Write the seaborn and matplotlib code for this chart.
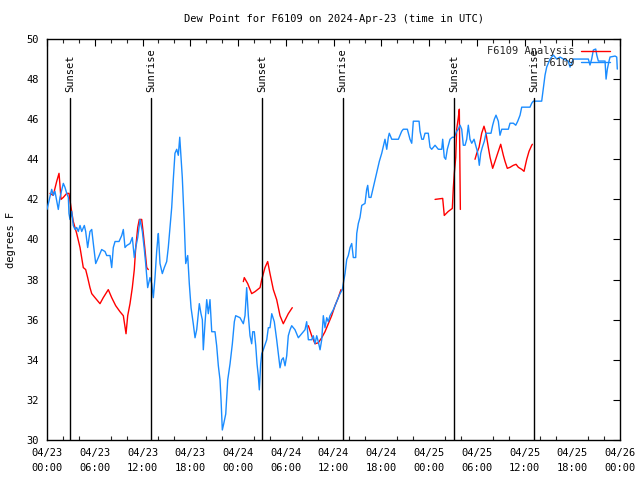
import numpy as np
import pandas as pd
import matplotlib
matplotlib.use("Agg")
import matplotlib.pyplot as plt
import matplotlib.dates as mdates
from matplotlib.lines import Line2D
import seaborn as sns

# ---------------- data ----------------
title = "Dew Point for F6109 on 2024-Apr-23 (time in UTC)"
y_label = "degrees F"
start = "2024-04-23 00:00"
end = "2024-04-26 00:00"
obs_label = "F6109"
ana_label = "F6109 Analysis"

# observed dew point (hours after start, degrees F)
obs_hours = [
    0.0, 0.59, 0.79, 1.0, 1.42, 1.63, 2.05, 2.26, 2.48, 2.68, 2.76, 2.89, 3.1, 3.3, 3.52,
    3.73, 3.93, 4.15, 4.36, 4.69, 4.86, 5.11, 5.4, 5.62, 5.82, 6.12, 6.45, 6.87, 7.29, 7.5,
    7.92, 8.13, 8.33, 8.55, 9.05, 9.39, 9.59, 9.8, 10.02, 10.43, 10.72, 10.97, 11.15, 11.4,
    11.69, 11.98, 12.23, 12.4, 12.65, 12.94, 13.16, 13.36, 13.57, 13.78, 13.91, 13.99, 14.2,
    14.49, 14.74, 15.04, 15.24, 15.46, 15.67, 15.87, 16.08, 16.3, 16.5, 16.68, 16.84, 17.0,
    17.25, 17.43, 17.68, 17.88, 18.1, 18.38, 18.6, 18.81, 19.01, 19.14, 19.35, 19.52, 19.64,
    19.85, 20.07, 20.27, 20.48, 20.7, 21.11, 21.32, 21.53, 21.74, 21.87, 22.03, 22.2, 22.46,
    22.71, 23.0, 23.29, 23.54, 23.71, 24.25, 24.67, 24.88, 25.09, 25.3, 25.51, 25.72, 25.85,
    26.05, 26.23, 26.39, 26.55, 26.68, 26.85, 26.98, 27.18, 27.61, 27.81, 28.02, 28.24,
    28.56, 28.86, 29.07, 29.28, 29.49, 29.69, 29.91, 30.12, 30.32, 30.54, 30.75, 31.16,
    31.58, 32.0, 32.42, 32.63, 32.84, 33.26, 33.46, 33.68, 33.89, 34.09, 34.31, 34.52,
    34.72, 34.93, 35.15, 35.35, 35.56, 35.98, 36.4, 36.82, 37.11, 37.23, 37.45, 37.66,
    37.86, 38.08, 38.29, 38.49, 38.79, 38.92, 39.12, 39.33, 39.55, 39.96, 40.17, 40.3,
    40.46, 40.71, 41.0, 41.22, 41.51, 41.76, 42.06, 42.35, 42.47, 42.69, 42.89, 43.01,
    43.32, 44.15, 44.57, 44.77, 45.28, 45.61, 45.83, 46.03, 46.75, 46.87, 47.09, 47.29,
    47.5, 47.91, 48.13, 48.34, 48.76, 49.17, 49.6, 49.72, 49.92, 50.1, 50.3, 50.64, 50.93,
    51.18, 51.48, 51.69, 51.9, 52.11, 52.31, 52.53, 52.74, 52.94, 53.15, 53.37, 53.66,
    53.87, 54.07, 54.2, 54.32, 54.5, 54.7, 54.95, 55.16, 55.79, 56.0, 56.21, 56.42, 56.71,
    56.92, 57.14, 57.97, 58.18, 58.6, 58.9, 59.15, 59.44, 59.65, 60.69, 60.91, 61.11,
    62.16, 62.36, 62.58, 62.79, 63.21, 63.62, 64.05, 64.46, 64.88, 65.5, 65.72, 65.93,
    66.13, 68.02, 68.23, 68.44, 68.65, 68.95, 69.08, 69.28, 70.12, 70.25, 70.41, 70.62,
    70.75, 71.38, 71.59, 71.66,
]
obs_values = [
    41.5, 42.5, 42.2, 42.4, 41.5, 42.1, 42.8, 42.6, 42.3, 42.1, 41.3, 41.0, 41.4, 40.7, 40.5,
    40.6, 40.4, 40.7, 40.4, 40.7, 40.4, 39.6, 40.4, 40.5, 39.8, 38.8, 39.1, 39.5, 39.4, 39.2,
    39.2, 38.6, 39.6, 39.9, 39.9, 40.2, 40.5, 39.6, 39.7, 39.8, 40.1, 39.1, 39.6, 40.1,
    41.0, 40.4, 39.5, 38.8, 37.6, 38.1, 37.8, 37.1, 38.1, 39.4, 40.0, 40.3, 38.8,
    38.3, 38.6, 38.9, 39.6, 40.6, 41.6, 43.0, 44.3, 44.5, 44.2, 45.1, 44.1, 43.1,
    40.8, 38.8, 39.2, 37.8, 36.6, 35.8, 35.1, 35.5, 36.3, 36.8, 36.3, 36.0, 34.5,
    35.8, 37.0, 36.3, 37.0, 35.4, 35.4, 34.7, 33.7, 33.0, 32.0, 30.5, 30.8, 31.3,
    33.0, 33.8, 34.8, 35.9, 36.2, 36.1, 35.8, 36.2, 37.6, 36.2, 35.2, 34.8, 35.4,
    35.4, 34.7, 33.8, 33.2, 32.5, 33.8, 34.3, 34.5, 35.0, 35.6, 35.6, 36.3,
    35.9, 35.0, 34.3, 33.6, 34.0, 34.1, 33.7, 34.2, 35.2, 35.5, 35.7, 35.5,
    35.1, 35.3, 35.5, 35.9, 35.0, 35.0, 35.2, 34.8, 35.2, 34.9, 34.5, 35.0,
    36.2, 35.6, 36.1, 35.9, 36.2, 36.5, 36.9, 37.3, 37.5, 37.8, 38.3, 39.0,
    39.2, 39.6, 39.8, 39.1, 39.1, 40.3, 40.8, 41.1, 41.7, 41.8, 42.5, 42.7,
    42.1, 42.1, 42.6, 43.0, 43.5, 43.9, 44.3, 44.8, 45.0, 44.5, 45.1, 45.3,
    45.0, 45.0, 45.4, 45.5, 45.5, 45.0, 44.8, 45.9, 45.9, 45.4, 45.0, 45.0,
    45.3, 45.3, 44.6, 44.5, 44.7, 44.5, 44.5, 45.0, 44.1, 44.0, 44.5, 45.0, 45.1,
    45.1, 45.4, 45.5, 45.7, 45.5, 44.7, 44.7, 45.0, 45.7, 45.0, 44.8, 45.0,
    44.7, 44.4, 44.1, 43.7, 44.3, 44.6, 44.9, 45.3, 45.3, 45.7, 46.0, 46.2, 45.9,
    45.2, 45.5, 45.5, 45.8, 45.8, 45.7, 45.9, 46.2, 46.6, 46.6, 46.8, 46.9,
    46.9, 47.5, 48.2, 48.6, 49.0, 49.2, 49.0, 49.1, 49.0, 48.9, 48.6, 48.8,
    49.0, 49.0, 48.7, 49.0, 49.45, 49.5, 49.2, 48.9, 48.9, 48.0, 48.5, 48.9,
    49.1, 49.15, 49.1, 48.5,
]

# analysis dew point (NaN marks a gap in the series)
ana_hours = [
    0.38, 0.79, 1.0, 1.22, 1.51, 1.63, 1.76, 2.05, 2.48, 2.76, 3.02, 3.3, 3.73, 4.15, 4.56,
    4.86, 5.11, 5.4, 5.62, 6.03, 6.66, 7.07, 7.7, 8.13, 8.63, 9.17, 9.59, 9.8, 9.93, 10.14,
    10.43, 10.72, 10.97, 11.15, 11.4, 11.6, 11.9, 12.1, 12.31, 12.53, 12.73, np.nan,
    24.67, 24.79, 25.22, 25.72, 26.14, 26.77, 26.98, 27.39, 27.73, 28.02, 28.44, 28.86,
    29.28, 29.69, 30.32, 30.82, np.nan,
    32.84, 33.26, 33.68, 34.09, 34.52, 34.93, 35.35, 35.77, 36.19, 36.6, 36.94, np.nan,
    48.76, 49.72, 49.92, 50.42, 50.93, 51.06, 51.18, 51.36, 51.48, 51.69, 51.81, 51.94, np.nan,
    53.78, 54.0, 54.29, 54.62, 54.91, 55.16, 55.45, 55.67, 56.0, 56.3, 56.63, 57.01, 57.34,
    57.55, 57.84, 58.18, 58.6, 58.94, 59.23, 59.65, 59.94, 60.28, 60.57, 60.91, 60.99,
]
ana_values = [
    42.3, 42.2, 42.55, 42.9, 43.3, 42.7, 42.0, 42.1, 42.3, 42.3, 41.6, 40.9, 40.3, 39.6, 38.6,
    38.5, 38.1, 37.6, 37.3, 37.1, 36.8, 37.1, 37.5, 37.1, 36.7, 36.4, 36.2, 35.65, 35.3, 36.2,
    36.8, 37.6, 38.5, 39.6, 40.6, 41.0, 41.0, 40.3, 39.5, 38.6, 38.5, np.nan,
    37.9, 38.1, 37.8, 37.3, 37.4, 37.6, 38.0, 38.6, 38.9, 38.3, 37.5, 37.0,
    36.2, 35.8, 36.3, 36.6, np.nan,
    35.7, 35.2, 34.8, 34.85, 35.1, 35.4, 35.8, 36.2, 36.7, 37.1, 37.5, np.nan,
    42.0, 42.05, 41.2, 41.4, 41.55, 42.6, 43.3, 44.1, 45.5, 46.1, 46.5, 41.5, np.nan,
    44.0, 44.3, 44.6, 45.3, 45.65, 45.3, 44.6, 44.1, 43.55, 43.9, 44.3, 44.75, 44.2,
    43.9, 43.55, 43.6, 43.7, 43.75, 43.6, 43.5, 43.4, 44.0, 44.4, 44.7, 44.75,
]

event_names = ["Sunset", "Sunrise", "Sunset", "Sunrise", "Sunset", "Sunrise"]
event_hours = [2.9, 13.1, 27.05, 37.15, 51.18, 61.22]

y_ticks = list(range(30, 51, 2))

# ---------------- style ----------------
sns.set_theme(style="white")
plt.rcParams["font.family"] = ["DejaVu Sans Mono", "DejaVu Sans"]
FS = 7.5
blue = "#1a8cff"
red = "#ff0000"

fig = plt.figure(figsize=(6.4, 4.8), dpi=100)
ax = fig.add_axes([47 / 640, 1 - 440 / 480, 573 / 640, 401 / 480])

t0 = pd.Timestamp(start)
obs = pd.DataFrame({"time": t0 + pd.to_timedelta(obs_hours, unit="h"), "value": obs_values})

ana = pd.DataFrame({"h": ana_hours, "value": ana_values})
ana["seg"] = ana["value"].isna().cumsum()
ana = ana.dropna().copy()
ana["time"] = t0 + pd.to_timedelta(ana["h"], unit="h")

sns.lineplot(data=ana, x="time", y="value", units="seg", estimator=None, sort=False,
             color=red, linewidth=1.0, ax=ax, zorder=2)
sns.lineplot(data=obs, x="time", y="value", estimator=None, sort=False,
             color=blue, linewidth=1.0, ax=ax, zorder=3)

top_frac = (47.06 - 30) / 20
for name, h in zip(event_names, event_hours):
    tt = mdates.date2num(t0 + pd.Timedelta(hours=h))
    ax.axvline(tt, ymin=0, ymax=top_frac, color="black", linewidth=1.0, zorder=4)
    ax.text(tt, 47.35, name, rotation=90, ha="center", va="bottom", fontsize=FS,
            color="black")

ax.set_xlim(pd.Timestamp(start), pd.Timestamp(end))
ax.set_ylim(30, 50)
ax.set_yticks(y_ticks)
ax.set_yticklabels([str(v) for v in y_ticks])
ax.xaxis.set_major_locator(mdates.HourLocator(byhour=range(0, 24, 6)))
ax.xaxis.set_minor_locator(mdates.HourLocator(byhour=range(0, 24, 2)))
ax.xaxis.set_major_formatter(mdates.DateFormatter("%m/%d\n%H:%M"))

ax.tick_params(axis="both", which="major", direction="in", length=5, width=0.8,
               top=True, right=True, labelsize=FS, colors="black", pad=6)
ax.tick_params(axis="x", which="minor", direction="in", length=3, width=0.8,
               top=True, bottom=True)
for s in ax.spines.values():
    s.set_color("black")
    s.set_linewidth(1.0)

ax.set_xlabel("")
ax.set_ylabel(y_label, fontsize=FS, labelpad=7, color="black")
ax.set_title(title, fontsize=FS, pad=12, color="black")

handles = [Line2D([], [], color=red, linewidth=1.0), Line2D([], [], color=blue, linewidth=1.0)]
labels = [ana_label, obs_label.rjust(len(ana_label))]
ax.legend(handles, labels, loc="upper right", frameon=False, markerfirst=False,
          handlelength=2.8, handletextpad=0.6, labelspacing=0.15, borderaxespad=0.3,
          bbox_to_anchor=(0.995, 1.0), fontsize=FS)

fig.canvas.draw()
for lab in ax.get_xticklabels():
    lab.set_linespacing(1.6)

fig.savefig("out.png", dpi=100)
